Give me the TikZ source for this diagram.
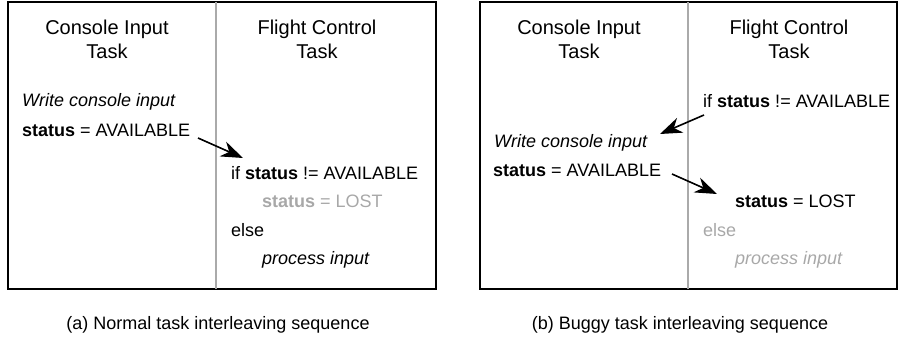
\documentclass[tikz,border=0pt]{standalone}
\usepackage{fontspec}
\setmainfont{Liberation Sans}
\usetikzlibrary{arrows.meta}
\definecolor{divgray}{HTML}{AAAAAA}
\definecolor{fadegray}{HTML}{A8A8A8}
\tikzset{
  panel/.style={draw=black, line width=1.6pt},
  divider/.style={draw=divgray, line width=1.4pt},
  title/.style={font=\fontsize{20}{22}\selectfont, anchor=base, inner sep=0pt},
  code/.style={font=\fontsize{18}{20}\selectfont, anchor=base west, inner sep=0pt},
  faded/.style={text=fadegray},
  caption/.style={font=\fontsize{18}{20}\selectfont, anchor=base, inner sep=0pt},
  flow/.style={line width=1.6pt, -{Stealth[length=22pt, width=16pt, inset=7pt]}}
}
\begin{document}
\begin{tikzpicture}[x=1pt, y=-1pt]
\useasboundingbox (0,0) rectangle (898,339);
% ---- panel (a)
\draw[panel] (8,2) rectangle (436,289);
\draw[divider] (216,2) -- (216,289);
\node[title] (a1) at (107,35) {Console Input};
\node[title] (a2) at (107,59) {Task};
\node[title] (a3) at (317,35) {Flight Control};
\node[title] (a4) at (317,59) {Task};
\node[code] (aw) at (22,107) {\itshape Write console input};
\node[code] (as) at (22,137) {\textbf{status} = AVAILABLE};
\node[code] (aif) at (231,180) {if \textbf{status} != AVAILABLE};
\node[code, faded] (alost) at (262,208) {\textbf{status} = LOST};
\node[code] (aelse) at (231,237) {else};
\node[code] (aproc) at (262,265) {\itshape process input};
\coordinate (aA) at (198,138);
\coordinate (aB) at (243,158);
\draw[flow] (aA) -- (aB);
\node[caption] (capa) at (218,330) {(a) Normal task interleaving sequence};
% ---- panel (b)
\draw[panel] (480,2) rectangle (897,289);
\draw[divider] (688,2) -- (688,289);
\node[title] (b1) at (579,35) {Console Input};
\node[title] (b2) at (579,59) {Task};
\node[title] (b3) at (789,35) {Flight Control};
\node[title] (b4) at (789,59) {Task};
\node[code] (bif) at (703,108) {if \textbf{status} != AVAILABLE};
\node[code] (bw) at (494,148) {\itshape Write console input};
\node[code] (bs) at (493,177) {\textbf{status} = AVAILABLE};
\node[code] (blost) at (735,208) {\textbf{status} = LOST};
\node[code, faded] (belse) at (703,237) {else};
\node[code, faded] (bproc) at (735,265) {\itshape process input};
\coordinate (bA) at (704,115);
\coordinate (bB) at (660,134);
\coordinate (bC) at (672,174);
\coordinate (bD) at (717,194);
\draw[flow] (bA) -- (bB);
\draw[flow] (bC) -- (bD);
\node[caption] (capb) at (680,330) {(b) Buggy task interleaving sequence};
\end{tikzpicture}
\end{document}
